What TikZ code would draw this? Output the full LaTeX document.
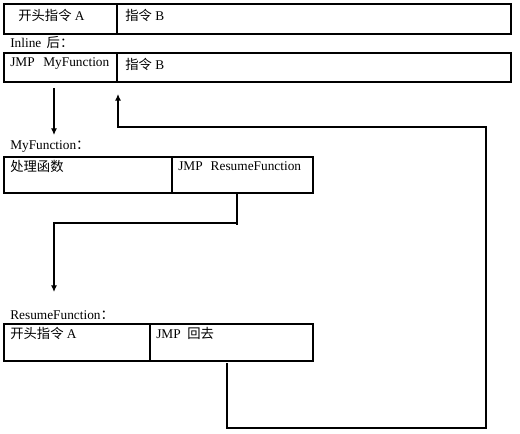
\documentclass[tikz,border=0pt]{standalone}
\usepackage{fontspec}
\setmainfont{Liberation Serif}
\newfontfamily\cjk{Noto Sans CJK SC}
\usetikzlibrary{arrows.meta}
\newcommand\pix{0.75pt}
\tikzset{
  cell/.style={draw,line width=0.8pt,anchor=north west,inner sep=0pt,outer sep=0pt},
  txt/.style={anchor=west,inner sep=0pt,font=\fontsize{10}{12}\selectfont},
  jump/.style={line width=0.8pt,-{Latex[length=5pt,width=4.5pt]}}
}
\begin{document}
\begin{tikzpicture}[x=0.75pt,y=-0.75pt]
\useasboundingbox (0,0) rectangle (520,434);
% original code
\node[cell,minimum width=113*\pix,minimum height=30*\pix] (a1) at (4,4) {};
\node[cell,minimum width=394*\pix,minimum height=30*\pix] (a2) at (117,4) {};
\node[txt] (ta1) at (18,15) {{\cjk 开头指令} A};
\node[txt] (ta2) at (125,15) {{\cjk 指令} B};
\node[txt] (inl) at (10,43) {Inline\hspace{4pt}{\cjk 后：}};
% after inline
\node[cell,minimum width=113*\pix,minimum height=29*\pix] (b1) at (4,53) {};
\node[cell,minimum width=394*\pix,minimum height=29*\pix] (b2) at (117,53) {};
\node[txt] (tb1) at (10,64) {JMP\hspace{6.5pt}MyFunction};
\node[txt] (tb2) at (125,64) {{\cjk 指令} B};
% MyFunction
\node[txt] (myf) at (10,147) {MyFunction{\cjk ：}};
\node[cell,minimum width=168*\pix,minimum height=36*\pix] (c1) at (4,157) {};
\node[cell,minimum width=141*\pix,minimum height=36*\pix] (c2) at (172,157) {};
\node[txt] (tc1) at (10,166) {\cjk 处理函数};
\node[txt] (tc2) at (178,166) {JMP\hspace{6pt}ResumeFunction};
% ResumeFunction
\node[txt] (rsf) at (10,315) {ResumeFunction{\cjk ：}};
\node[cell,minimum width=146*\pix,minimum height=37*\pix] (d1) at (4,324) {};
\node[cell,minimum width=163*\pix,minimum height=37*\pix] (d2) at (150,324) {};
\node[txt] (td1) at (10,333) {{\cjk 开头指令} A};
\node[txt] (td2) at (156,333) {JMP\hspace{5pt}{\cjk 回去}};
% jumps
\coordinate (j1) at (54,88);
\coordinate (myin) at (54,135);
\draw[jump] (j1) -- (myin);
\coordinate (j2) at (237,193);
\coordinate (j2end) at (237,225);
\coordinate (j2turn) at (237,223);
\coordinate (rsin) at (54,292);
\draw[line width=0.8pt] (j2) -- (j2end);
\draw[jump] (j2turn) -| (rsin);
\coordinate (back) at (227,363);
\coordinate (retb) at (118,94);
\draw[jump] (back) |- (486,428) |- (118,127) -- (retb);
\end{tikzpicture}
\end{document}
